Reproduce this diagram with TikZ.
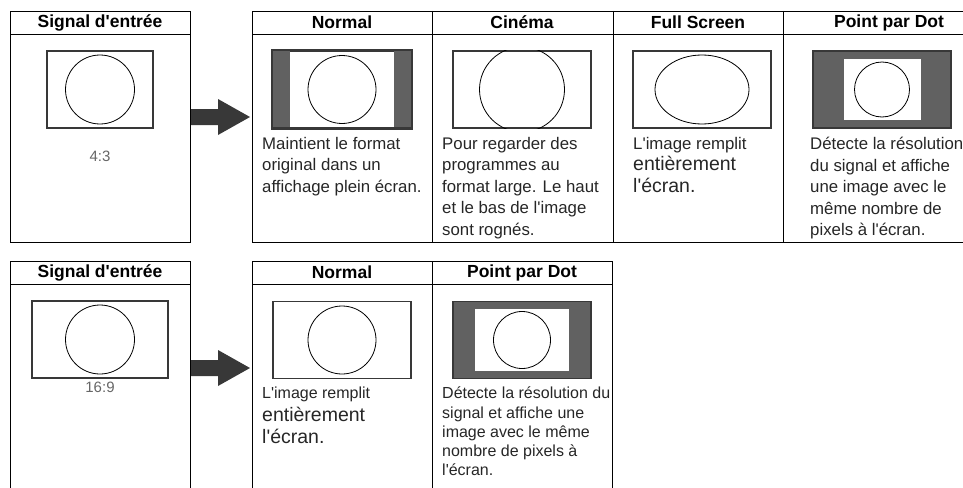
\documentclass[tikz,border=0pt]{standalone}
\usepackage{fontspec}
\setmainfont{Liberation Sans}[Ligatures=TeXOff]
\usetikzlibrary{positioning}

\begin{document}
\begin{tikzpicture}[x=1pt, y=-1pt,
  cell/.style={draw=black, line width=0.9pt},
  headtxt/.style={font=\fontsize{17.5}{19}\selectfont\bfseries, inner sep=0pt},
  desc/.style={anchor=north west, inner sep=0pt, align=left, text=black!85, font=\fontsize{16.8}{21.5}\selectfont},
  descb/.style={desc, font=\fontsize{16}{19.2}\selectfont},
  ratio/.style={text=black!60, font=\fontsize{15}{18}\selectfont, inner sep=0pt},
  screen/.style={draw=black!78, line width=1.8pt, fill=white, inner sep=0pt, minimum height=77pt, minimum width=#1},
  screen/.default=138pt,
  bar/.style={fill=black!62},
  disc/.style={circle, draw=black, line width=0.8pt, inner sep=0pt, minimum size=#1},
  blockarrow/.style={fill=black!78}
]
\useasboundingbox (0,0) rectangle (963,487);
\clip (0,0) rectangle (963,487);

\draw[cell] (10,11) rectangle (190,242);
\draw[cell] (10,34) -- (190,34);
\draw[cell] (252,11) rectangle (1000,242);
\draw[cell] (252,34) -- (1000,34);
\foreach \x in {432,613,783} \draw[cell] (\x,11) -- (\x,242);

\draw[cell] (10,261) rectangle (190,500);
\draw[cell] (10,284) -- (190,284);
\draw[cell] (252,261) rectangle (612,500);
\draw[cell] (252,284) -- (612,284);
\draw[cell] (432,261) -- (432,500);

\node[headtxt] (hin1)  at (100,22.5) {Signal d'entrée};
\node[headtxt] (hnor1) at (342,22.5) {Normal};
\node[headtxt] (hcin)  at (522,22.5) {Cinéma};
\node[headtxt] (hfull) at (698,22.5) {Full Screen};
\node[headtxt] (hdot1) at (889,22.5) {Point par Dot};
\node[headtxt] (hin2)  at (100,272.5) {Signal d'entrée};
\node[headtxt] (hnor2) at (342,272.5) {Normal};
\node[headtxt] (hdot2) at (522,272.5) {Point par Dot};

\node[screen=106pt] (sin1) at (100,89.5) {};
\node[disc=69pt] at (sin1) {};
\node[ratio] (r43) at (100,156) {4:3};

\node[screen] (snor1) at (342,89.5) {};
\fill[bar] (snor1.north west) rectangle ++(18,77);
\fill[bar] (snor1.north east) rectangle ++(-18,77);
\draw[draw=black!78, line width=1.8pt] (snor1.north west) rectangle (snor1.south east);
\node[disc=68pt] at (snor1) {};

\node[screen] (scin) at (522,89.5) {};
\begin{scope}
  \clip (scin.north west) rectangle (scin.south east);
  \node[disc=85pt] at (scin) {};
\end{scope}

\node[screen] (sfull) at (702,89.5) {};
\draw[line width=0.8pt] (sfull.center) ellipse [x radius=47, y radius=34.5];

\node[screen, fill=black!62] (sdot1) at (882,89.5) {};
\node[fill=white, inner sep=0pt, minimum width=77pt, minimum height=61pt] (wdot1) at (sdot1) {};
\node[disc=55pt] at (sdot1) {};

\node[screen=136pt] (sin2) at (100,339.5) {};
\node[disc=69pt] at (sin2) {};
\node[ratio] (r169) at (100,387) {16:9};

\node[screen] (snor2) at (342,340) {};
\node[disc=68pt] at (snor2) {};

\node[screen, fill=black!62] (sdot2) at (522,340) {};
\node[fill=white, inner sep=0pt, minimum width=94pt, minimum height=62pt] (wdot2) at (sdot2) {};
\node[disc=57pt] at (sdot2) {};

\foreach \y in {117,368}
  \fill[blockarrow] (191,\y) ++(0,-8) -- ++(27,0) -- ++(0,-10) -- ++(32,18)
    -- ++(-32,18) -- ++(0,-10) -- ++(-27,0) -- cycle;

\node[desc] (tnor1) at (262,137) {Maintient le format\\original dans un\\affichage plein écran.};
\node[desc] (tcin) at (442,137) {Pour regarder des\\programmes au\\format large. Le haut\\et le bas de l'image\\sont rognés.};
\node[desc] (tfull) at (633,137) {L'image remplit\\{\fontsize{19.5}{21.5}\selectfont entièrement}\\{\fontsize{19.5}{21.5}\selectfont l'écran.}};
\node[desc] (tdot1) at (810,137) {Détecte la résolution\\du signal et affiche\\une image avec le\\même nombre de\\pixels à l'écran.};
\node[descb] (tnor2) at (262,387) {L'image remplit\\[4pt]{\fontsize{19.5}{21.5}\selectfont entièrement}\\[2pt]{\fontsize{19.5}{21.5}\selectfont l'écran.}};
\node[descb] (tdot2) at (442,387) {Détecte la résolution du\\signal et affiche une\\image avec le même\\nombre de pixels à\\l'écran.};
\end{tikzpicture}
\end{document}
